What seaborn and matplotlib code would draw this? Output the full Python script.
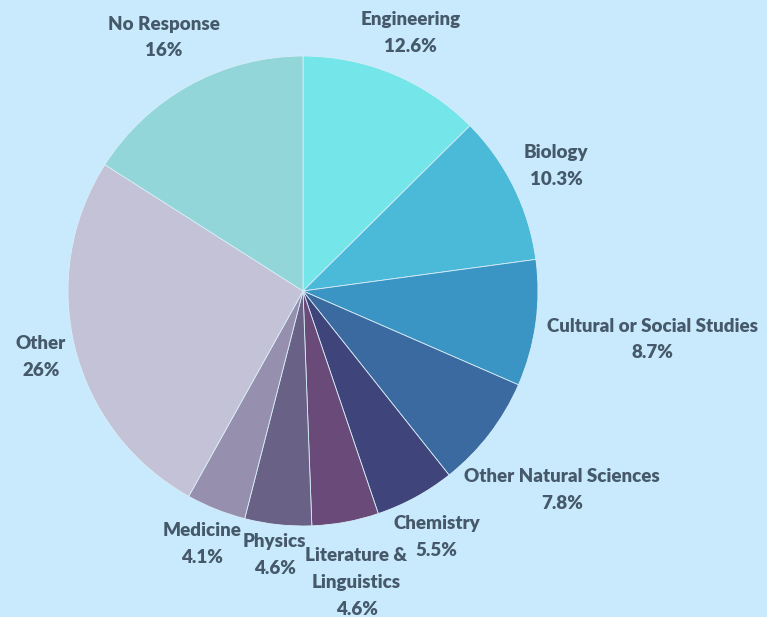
"""Pie chart of study fields (share of respondents)."""

import matplotlib

matplotlib.use("Agg")

import matplotlib.pyplot as plt
import numpy as np
import seaborn as sns

fields = [
    "Engineering",
    "Biology",
    "Cultural or Social Studies",
    "Other Natural Sciences",
    "Chemistry",
    "Literature &\nLinguistics",
    "Physics",
    "Medicine",
    "Other",
    "No Response",
]
shares = [12.6, 10.3, 8.7, 7.8, 5.5, 4.6, 4.6, 4.1, 26, 16]
share_labels = ["12.6%", "10.3%", "8.7%", "7.8%", "5.5%", "4.6%", "4.6%", "4.1%", "26%", "16%"]

colors = [
    "#74e5e8", "#4bbad9", "#3a94c4", "#3a6aa0", "#3f457a",
    "#6a4a78", "#6a6286", "#9690ae", "#c4c2d6", "#92d6d9",
]
# distance of each label from the centre, in pie radii
label_dist = [1.19, 1.2, 1.5, 1.39, 1.19, 1.26, 1.13, 1.16, 1.15, 1.23]

BG = "#c8eafc"
TEXT = "#46596a"

sns.set_style("white")
plt.rcParams["font.family"] = ["Lato", "DejaVu Sans"]

W, H, DPI = 767, 617, 100
cx, cy, rad = 303, 291, 235

fig = plt.figure(figsize=(W / DPI, H / DPI), dpi=DPI, facecolor=BG)
ax = fig.add_axes([0, 0, 1, 1])
ax.set_facecolor(BG)

wedges, _ = ax.pie(
    shares,
    colors=colors,
    startangle=90,
    counterclock=False,
    wedgeprops=dict(edgecolor="#d8eef8", linewidth=0.6),
)

for w, name, pct, d in zip(wedges, fields, share_labels, label_dist):
    mid = np.deg2rad((w.theta1 + w.theta2) / 2)
    ax.text(
        d * np.cos(mid), d * np.sin(mid), f"{name}\n{pct}",
        ha="center", va="center", color=TEXT, fontsize=13.5,
        fontweight="heavy", linespacing=1.7,
    )

ax.set_xlim(-cx / rad, (W - cx) / rad)
ax.set_ylim(-(H - cy) / rad, cy / rad)
ax.set_aspect("equal")
ax.axis("off")

fig.savefig("out.png", dpi=DPI, facecolor=BG)
